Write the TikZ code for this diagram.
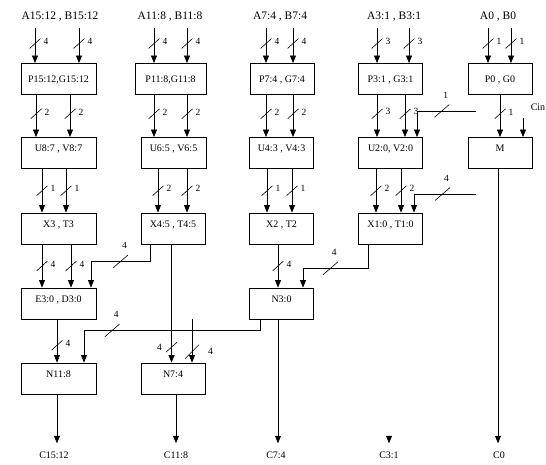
\documentclass[tikz,border=0pt]{standalone}
\usepackage{fontspec}
\setmainfont{Liberation Serif}
\usetikzlibrary{arrows.meta,positioning}

\begin{document}
\begin{tikzpicture}[x=1pt,y=-1pt,>={Triangle[width=6pt,length=7.5pt]},line width=0.7pt,
  blk/.style={draw,line width=0.9pt,minimum width=64pt,minimum height=31pt,inner sep=1pt,
    font=\fontsize{10}{12}\selectfont,text height=7pt,text depth=10pt},
  pgblk/.style={blk,text depth=0pt},
  inlbl/.style={font=\fontsize{11.5}{13}\selectfont,inner sep=2pt},
  outlbl/.style={font=\fontsize{10}{12}\selectfont,inner sep=2pt},
  lbl/.style={font=\fontsize{9.5}{11}\selectfont,inner sep=0.5pt},
  slash/.style={inner sep=0pt,minimum width=11pt,minimum height=10pt,
    path picture={\draw[-,shorten <=0pt,shorten >=0pt,line width=0.6pt] (path picture bounding box.south west) -- (path picture bounding box.north east);}},
  cut/.style={slash,label={[lbl,label distance=2pt,yshift=2pt]right:#1}},
  wcut/.style={slash,minimum width=14pt,minimum height=14pt,label={[lbl,label distance=8pt]right:#1}},
  lcut/.style={slash,label={[lbl,label distance=3pt]left:#1}},
  hcut/.style={slash,minimum width=15pt,minimum height=13pt,
    label={[lbl,label distance=5pt,xshift=4pt]above:#1}}]
  \useasboundingbox (0,0) rectangle (546,464);
  % inputs
  \node[inlbl] (in1) at (60,17) {A15:12 , B15:12};
  \node[inlbl] (in2) at (170,17) {A11:8 , B11:8};
  \node[inlbl] (in3) at (280,17) {A7:4 , B7:4};
  \node[inlbl] (in4) at (394,17) {A3:1 , B3:1};
  \node[inlbl] (in5) at (498,17) {A0 , B0};
  % first row
  \node[pgblk,minimum width=75pt] (PG1) at (58.5,79) {P15:12,G15:12};
  \node[pgblk,minimum width=71pt] (PG2) at (170.5,79) {P11:8,G11:8};
  \node[pgblk] (PG3) at (282,79) {P7:4 , G7:4};
  \node[pgblk] (PG4) at (390.5,79) {P3:1 , G3:1};
  \node[pgblk] (PG5) at (500,79) {P0 , G0};
  % second row
  \node[blk,minimum width=75pt] (UV1) at (58.5,153) {U8:7 , V8:7};
  \node[blk,minimum width=65pt] (UV2) at (173.5,153) {U6:5 , V6:5};
  \node[blk] (UV3) at (281.5,153) {U4:3 , V4:3};
  \node[blk] (UV4) at (390.5,153) {U2:0, V2:0};
  \node[blk] (M) at (500,153) {M};
  % third row
  \node[blk,minimum width=75pt] (XT1) at (58.5,228.5) {X3 , T3};
  \node[blk] (XT2) at (173,228.5) {X4:5 , T4:5};
  \node[blk] (XT3) at (281.5,228.5) {X2 , T2};
  \node[blk] (XT4) at (390.5,228.5) {X1:0 , T1:0};
  % fourth row
  \node[blk,minimum width=75pt] (ED) at (58.5,303.5) {E3:0 , D3:0};
  \node[blk] (N3) at (281.5,303.5) {N3:0};
  % fifth row
  \node[blk,minimum width=75pt] (N11) at (58.5,378.5) {N11:8};
  \node[blk] (N7) at (173,378.5) {N7:4};
  % outputs
  \node[outlbl] (C15) at (54,455) {C15:12};
  \node[outlbl] (C11) at (176,455) {C11:8};
  \node[outlbl] (C7) at (276,455) {C7:4};
  \node[outlbl] (C3) at (389,455) {C3:1};
  \node[outlbl] (C0) at (499,455) {C0};
  \node[outlbl] (cin) at (538,107) {Cin};
  \coordinate (cy1) at (476,111);
  \coordinate (cy2) at (476,194);
  \coordinate (ci) at (523,118);
  \coordinate (b7) at ([xshift=19]N7.north);

\path[->,shorten <=4pt]
  ([xshift=-23.5]PG1.north |- in1.south) edge node[cut=4]{} ([xshift=-23.5]PG1.north)
  ([xshift=20.5]PG1.north |- in1.south) edge node[cut=4]{} ([xshift=20.5]PG1.north)
  ([xshift=-16.5]PG2.north |- in2.south) edge node[cut=4]{} ([xshift=-16.5]PG2.north)
  ([xshift=16.5]PG2.north |- in2.south) edge node[cut=4]{} ([xshift=16.5]PG2.north)
  ([xshift=-16]PG3.north |- in3.south) edge node[cut=4]{} ([xshift=-16]PG3.north)
  ([xshift=11]PG3.north |- in3.south) edge node[cut=4]{} ([xshift=11]PG3.north)
  ([xshift=-13.5]PG4.north |- in4.south) edge node[cut=3]{} ([xshift=-13.5]PG4.north)
  ([xshift=18.5]PG4.north |- in4.south) edge node[cut=3]{} ([xshift=18.5]PG4.north)
  ([xshift=-12]PG5.north |- in5.south) edge node[cut=1]{} ([xshift=-12]PG5.north)
  ([xshift=11]PG5.north |- in5.south) edge node[cut=1]{} ([xshift=11]PG5.north);

\path[->]
  ([xshift=-22.5]PG1.south) edge node[cut=2,pos=.45]{} ([xshift=-22.5]PG1.south |- UV1.north)
  ([xshift=11.5]PG1.south) edge node[cut=2,pos=.45]{} ([xshift=11.5]PG1.south |- UV1.north)
  ([xshift=-16.5]PG2.south) edge node[cut=2,pos=.45]{} ([xshift=-16.5]PG2.south |- UV2.north)
  ([xshift=16.5]PG2.south) edge node[cut=2,pos=.45]{} ([xshift=16.5]PG2.south |- UV2.north)
  ([xshift=-16]PG3.south) edge node[cut=2,pos=.45]{} ([xshift=-16]PG3.south |- UV3.north)
  ([xshift=11]PG3.south) edge node[cut=2,pos=.45]{} ([xshift=11]PG3.south |- UV3.north)
  ([xshift=-13.5]PG4.south) edge node[cut=3,pos=.45]{} ([xshift=-13.5]PG4.south |- UV4.north)
  ([xshift=14.5]PG4.south) edge node[cut=3,pos=.45]{} ([xshift=14.5]PG4.south |- UV4.north)
  (PG5.south) edge node[cut=1,pos=.45]{} (M.north)
  (ci) edge ([xshift=23]M.north)
  ([xshift=-16.5]UV1.south) edge node[cut=1]{} ([xshift=-16.5]UV1.south |- XT1.north)
  ([xshift=7.5]UV1.south) edge node[cut=1]{} ([xshift=7.5]UV1.south |- XT1.north)
  ([xshift=-15.5]UV2.south) edge node[cut=2]{} ([xshift=-15.5]UV2.south |- XT2.north)
  ([xshift=13.5]UV2.south) edge node[cut=2]{} ([xshift=13.5]UV2.south |- XT2.north)
  ([xshift=-14.5]UV3.south) edge node[cut=1]{} ([xshift=-14.5]UV3.south |- XT3.north)
  ([xshift=10.5]UV3.south) edge node[cut=1]{} ([xshift=10.5]UV3.south |- XT3.north)
  ([xshift=-14.5]UV4.south) edge node[cut=2]{} ([xshift=-14.5]UV4.south |- XT4.north)
  ([xshift=10.5]UV4.south) edge node[cut=2]{} ([xshift=10.5]UV4.south |- XT4.north)
  ([xshift=-16.5]XT1.south) edge node[cut=4]{} ([xshift=-16.5]XT1.south |- ED.north)
  ([xshift=12.5]XT1.south) edge node[cut=4]{} ([xshift=12.5]XT1.south |- ED.north)
  ([xshift=-1.5]XT2.south) edge node[lcut=4,pos=.87]{} ([xshift=-1.5]XT2.south |- N7.north)
  ([xshift=-3.5]XT3.south) edge node[cut=4]{} ([xshift=-3.5]XT3.south |- N3.north)
  ([xshift=-1.5]ED.south) edge node[cut=4,pos=.6]{} ([xshift=-1.5]ED.south |- N11.north)
  (b7 |- N3.south) edge node[wcut=4,pos=.75]{} (b7);

\path[->,shorten >=6pt]
  ([xshift=-1.5]N11.south) edge ([xshift=-1.5]N11.south |- C15.north)
  ([xshift=3]N7.south) edge ([xshift=3]N7.south |- C11.north)
  ([xshift=-3.5]N3.south) edge ([xshift=-3.5]N3.south |- C7.north)
  ([yshift=13.5pt]C3.north) edge (C3.north)
  ([xshift=-2]M.south) edge ([xshift=-2]M.south |- C0.north);

  \draw[->] (cy1) -| node[pos=.29,hcut=1]{} ([xshift=26.5]UV4.north);
  \draw[->] (cy2) -| node[pos=.27,hcut=4]{} ([xshift=23.5]XT4.north);
  \draw[->] ([xshift=-23]XT2.south) -- ++(0,17) -| node[pos=.25,hcut=4]{} ([xshift=32.5]ED.north);
  \draw[->] ([xshift=-22.5]XT4.south) -- ++(0,24) -| node[pos=.29,hcut=4]{} ([xshift=21.5]N3.north);
  \draw[->] ([xshift=-21.5]N3.south) -- ++(0,11) -| node[pos=.42,hcut=4]{} ([xshift=25.5]N11.north);
\end{tikzpicture}
\end{document}
